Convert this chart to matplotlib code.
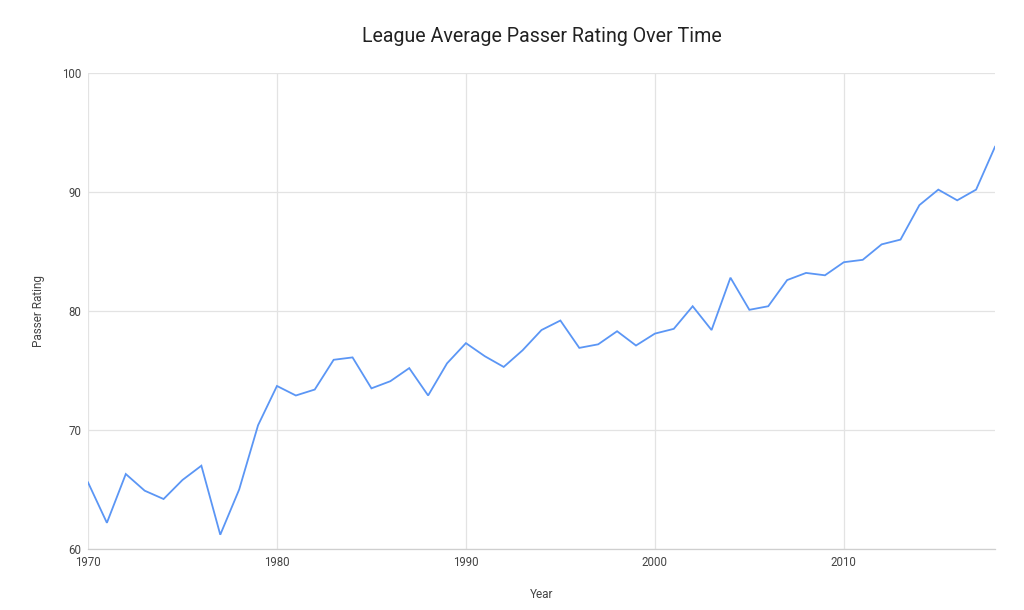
import matplotlib
matplotlib.use("Agg")
import matplotlib.pyplot as plt

years = list(range(1970, 2019))
rating = [65.6, 62.2, 66.3, 64.9, 64.2, 65.8, 67.0, 61.2, 65.0, 70.4,
          73.7, 72.9, 73.4, 75.9, 76.1, 73.5, 74.1, 75.2, 72.9, 75.6,
          77.3, 76.2, 75.3, 76.7, 78.4, 79.2, 76.9, 77.2, 78.3, 77.1,
          78.1, 78.5, 80.4, 78.4, 82.8, 80.1, 80.4, 82.6, 83.2, 83.0,
          84.1, 84.3, 85.6, 86.0, 88.9, 90.2, 89.3, 90.2, 93.8]
x_ticks = [1970, 1980, 1990, 2000, 2010]
y_ticks = [60, 70, 80, 90, 100]

plt.rcParams['font.family'] = ['Roboto', 'DejaVu Sans']

fig = plt.figure(figsize=(10.24, 6.10), dpi=100)
ax = fig.add_axes([88/1024, 61/610, (995-88)/1024, (549-73)/610])

ax.plot(years, rating, color='#5b96f5', linewidth=1.3, solid_joinstyle='miter')
ax.set_xlim(1970, 2018)
ax.set_ylim(60, 100)
ax.set_xticks(x_ticks)
ax.set_yticks(y_ticks)
ax.grid(True, color='#e3e3e3', linewidth=0.9)
ax.set_axisbelow(True)
for s in ['top', 'right', 'left']:
    ax.spines[s].set_visible(False)
ax.spines['bottom'].set_color('#cfcfcf')
ax.spines['bottom'].set_linewidth(0.9)
ax.tick_params(length=0, labelsize=8.3, colors='#444444')
ax.tick_params(axis='x', pad=5)
ax.tick_params(axis='y', pad=5)

ax.set_title('League Average Passer Rating Over Time', fontsize=14.1,
             color='#222222', pad=22)
ax.set_xlabel('Year', fontsize=8.5, color='#444444', labelpad=14)
ax.set_ylabel('Passer Rating', fontsize=8.5, color='#444444', labelpad=12)

fig.savefig('out.png', dpi=100, facecolor='white')
